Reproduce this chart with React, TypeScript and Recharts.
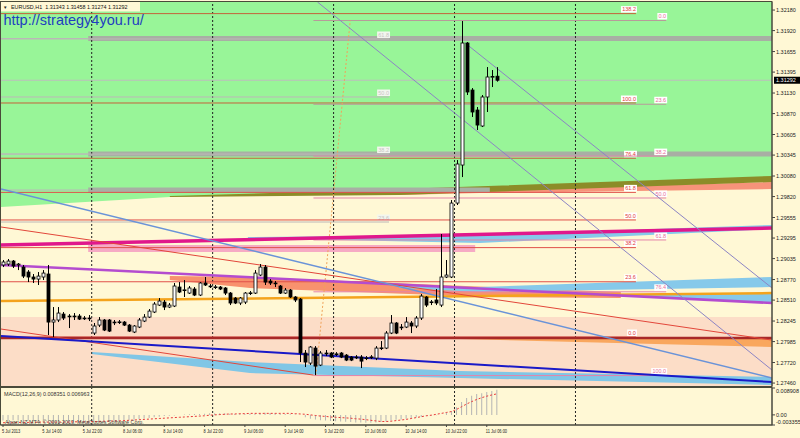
import React from 'react';
import { ComposedChart, Bar, Line, Area, XAxis, YAxis, ReferenceLine, ReferenceArea } from 'recharts';

const FONT = "'Liberation Sans', Arial, sans-serif";
const CREAM = '#FFF8D5';
const SLOTS = 153; // bar slots in the window, incl. the empty shift on the right

// EURUSD H1, 5 Jul 2013 06:00 .. 11 Jul 2013 08:00
const OPEN = [
  1.28954, 1.28966, 1.29004, 1.28954, 1.28928, 1.28865, 1.28802, 1.28776, 1.28802, 1.2884,
  1.28232, 1.28258, 1.28333, 1.28308, 1.28308, 1.28308, 1.28283, 1.28283, 1.28093, 1.28194,
  1.28258, 1.28258, 1.28232, 1.28232, 1.28232, 1.28194, 1.28106, 1.28169, 1.28245, 1.28295,
  1.28359, 1.28447, 1.28485, 1.28422, 1.28435, 1.28675, 1.28637, 1.28599, 1.2865, 1.28574,
  1.28726, 1.28688, 1.28675, 1.28675, 1.28663, 1.28599, 1.28536, 1.28473, 1.28485, 1.28599,
  1.28599, 1.28827, 1.28928, 1.28751, 1.28726, 1.28688, 1.28599, 1.28637, 1.28549, 1.28523,
  1.2784, 1.27713, 1.27903, 1.27688, 1.2784, 1.2784, 1.27827, 1.2784, 1.27814, 1.27789,
  1.27789, 1.27789, 1.27776, 1.27789, 1.27776, 1.27903, 1.27903, 1.28093, 1.2822, 1.28169,
  1.28169, 1.2822, 1.28182, 1.28283, 1.28549, 1.28485, 1.28511, 1.28447, 1.28802, 1.28802,
  1.29738, 1.30219, 1.31763, 1.31168, 1.30915, 1.30713, 1.3108, 1.31333, 1.31343,
];
const HIGH = [
  1.29017, 1.2903, 1.29017, 1.28979, 1.28954, 1.2889, 1.2884, 1.28865, 1.2889, 1.28954,
  1.28422, 1.28422, 1.28359, 1.28333, 1.28346, 1.28333, 1.28308, 1.28321, 1.2822, 1.28295,
  1.2827, 1.2827, 1.28258, 1.28258, 1.28245, 1.28207, 1.28194, 1.28283, 1.28333, 1.28397,
  1.28485, 1.28536, 1.28511, 1.28473, 1.28726, 1.28738, 1.28764, 1.28688, 1.28675, 1.28738,
  1.28802, 1.28713, 1.28701, 1.28688, 1.28675, 1.28612, 1.28549, 1.28549, 1.28612, 1.28625,
  1.2889, 1.28966, 1.28954, 1.28776, 1.28751, 1.28701, 1.28663, 1.2865, 1.28561, 1.28536,
  1.27878, 1.27928, 1.27928, 1.27865, 1.27878, 1.27852, 1.27852, 1.27852, 1.27827, 1.27802,
  1.27814, 1.27814, 1.27802, 1.27814, 1.27928, 1.27992, 1.28118, 1.28321, 1.28232, 1.28207,
  1.28295, 1.28245, 1.28308, 1.28587, 1.28561, 1.28511, 1.2865, 1.29346, 1.29017, 1.29776,
  1.30282, 1.32041, 1.31776, 1.31193, 1.30953, 1.31105, 1.31459, 1.31421, 1.31458,
];
const LOW = [
  1.28928, 1.28941, 1.28916, 1.2889, 1.28789, 1.28738, 1.28726, 1.28701, 1.28764, 1.28068,
  1.28042, 1.28232, 1.28258, 1.28156, 1.28258, 1.28258, 1.28258, 1.28245, 1.28068, 1.28169,
  1.28118, 1.28106, 1.28194, 1.28207, 1.28182, 1.28106, 1.28093, 1.28156, 1.28232, 1.28283,
  1.28346, 1.28435, 1.28384, 1.28409, 1.28422, 1.28599, 1.28549, 1.28587, 1.28561, 1.28561,
  1.28688, 1.28663, 1.2865, 1.28637, 1.28574, 1.28447, 1.2846, 1.28447, 1.2846, 1.28574,
  1.28587, 1.28814, 1.28701, 1.28701, 1.28675, 1.28587, 1.28587, 1.28536, 1.28485, 1.27726,
  1.27663, 1.27688, 1.27561, 1.27675, 1.27802, 1.27776, 1.27802, 1.27776, 1.27738, 1.27738,
  1.27764, 1.2765, 1.27751, 1.27764, 1.27751, 1.27878, 1.2789, 1.2808, 1.2808, 1.28131,
  1.28156, 1.28093, 1.28156, 1.28258, 1.28422, 1.28447, 1.28447, 1.28422, 1.28789, 1.28789,
  1.29713, 1.30067, 1.31105, 1.30827, 1.30662, 1.307, 1.3089, 1.31206, 1.31274,
];
const CLOSE = [
  1.28992, 1.29004, 1.28941, 1.28966, 1.28814, 1.28802, 1.28776, 1.28814, 1.28852, 1.28232,
  1.28258, 1.28346, 1.28283, 1.28305, 1.28305, 1.2827, 1.2828, 1.2828, 1.28182, 1.28258,
  1.28131, 1.28118, 1.28229, 1.28235, 1.28194, 1.28118, 1.28182, 1.28258, 1.28295, 1.28371,
  1.2846, 1.28498, 1.28422, 1.28447, 1.28688, 1.28612, 1.2864, 1.28663, 1.28574, 1.28726,
  1.28701, 1.28685, 1.28678, 1.2865, 1.28599, 1.28473, 1.28473, 1.28536, 1.28599, 1.28602,
  1.28852, 1.28928, 1.28738, 1.28726, 1.28723, 1.28599, 1.28637, 1.28549, 1.28511, 1.2784,
  1.27726, 1.27916, 1.27675, 1.2784, 1.27837, 1.27789, 1.2783, 1.27789, 1.27751, 1.27751,
  1.27786, 1.27738, 1.27779, 1.27792, 1.27903, 1.27906, 1.28093, 1.2822, 1.28093, 1.28166,
  1.28232, 1.28182, 1.28283, 1.28561, 1.28447, 1.28488, 1.28473, 1.28802, 1.28827, 1.29738,
  1.30232, 1.31763, 1.31143, 1.3089, 1.30725, 1.3108, 1.31333, 1.3134, 1.31292,
];

// MACD(12,26,9): main (histogram) and signal (dotted)
const MACD_MAIN = [
  -0.0019, -0.0018, -0.0018, -0.0017, -0.0018, -0.0019, -0.002, -0.002, -0.0019, -0.0025,
  -0.003, -0.003, -0.0029, -0.0028, -0.0027, -0.0026, -0.0025, -0.0024, -0.0024, -0.0023,
  -0.0022, -0.0022, -0.0021, -0.002, -0.0019, -0.0018, -0.0016, -0.0014, -0.0012, -0.001,
  -0.0008, -0.0006, -0.0004, -0.0003, -0.0002, 0.0, 0.0001, 0.0002, 0.0003, 0.0003,
  0.0004, 0.0005, 0.0005, 0.0005, 0.0005, 0.0004, 0.0003, 0.0003, 0.0003, 0.0004,
  0.0004, 0.0006, 0.0007, 0.0006, 0.0005, 0.0004, 0.0003, 0.0002, 0.0001, 0.0,
  -0.0008, -0.0013, -0.0015, -0.0018, -0.0019, -0.002, -0.0021, -0.0022, -0.0023, -0.0024,
  -0.0025, -0.0025, -0.0026, -0.0026, -0.0025, -0.0024, -0.0022, -0.0019, -0.0016, -0.0015,
  -0.0013, -0.0011, -0.0009, -0.0007, -0.0003, -0.0002, -0.0001, 0.0, 0.0008, 0.0012,
  0.0025, 0.0043, 0.0056, 0.0063, 0.0069, 0.0072, 0.0076, 0.0079, 0.008351,
];
const MACD_SIGNAL = [
  -0.0026, -0.0026, -0.0026, -0.0025, -0.0025, -0.0025, -0.0025, -0.0024, -0.0024, -0.0024,
  -0.0024, -0.0024, -0.0024, -0.0024, -0.0023, -0.0023, -0.0023, -0.0023, -0.0022, -0.0022,
  -0.0021, -0.0021, -0.002, -0.002, -0.0019, -0.0018, -0.0017, -0.0016, -0.0015, -0.0014,
  -0.0013, -0.0012, -0.0011, -0.001, -0.0009, -0.0008, -0.0007, -0.0006, -0.0005, -0.0004,
  -0.0003, -0.0001, 0.0, 0.0001, 0.0002, 0.0003, 0.0003, 0.0004, 0.0004, 0.0005,
  0.0005, 0.0005, 0.0005, 0.0005, 0.0005, 0.0005, 0.0005, 0.0005, 0.0004, 0.0003,
  0.0002, 0.0, -0.0002, -0.0004, -0.0005, -0.0007, -0.0008, -0.0009, -0.001, -0.0011,
  -0.0013, -0.0014, -0.0016, -0.0018, -0.002, -0.0022, -0.0022, -0.0021, -0.0019, -0.0017,
  -0.0015, -0.0012, -0.0009, -0.0006, -0.0003, -0.0001, 0.0002, 0.0005, 0.0008, 0.0011,
  0.0018, 0.0027, 0.0036, 0.0044, 0.0051, 0.0057, 0.0062, 0.0066, 0.006963,
];

const TIME_LABELS = [
  '5 Jul 2013', '5 Jul 14:00', '5 Jul 22:00', '8 Jul 06:00', '8 Jul 14:00', '8 Jul 22:00',
  '9 Jul 06:00', '9 Jul 14:00', '9 Jul 22:00', '10 Jul 06:00', '10 Jul 14:00', '10 Jul 22:00',
  '11 Jul 06:00',
];
const PRICE_TICKS = [
  1.3218, 1.3192, 1.31655, 1.31395, 1.3113, 1.3087, 1.30605, 1.30345, 1.3008, 1.2982,
  1.29555, 1.29295, 1.29035, 1.2877, 1.2851, 1.28245, 1.27985, 1.2772, 1.2746,
];
const MACD_TICKS = [0.008908, 0, -0.003355];
const PRICE_DOMAIN = [1.27423, 1.32282];
const MACD_DOMAIN = [-0.003355, 0.008908];
const DAY_BREAKS = [18, 42, 66, 90, 114];
const LAST_PRICE = 1.31292;

// Fibonacci objects: level text, price, [from bar, to bar]
const FIBO_A_LEVELS = ['138.2', '100.0', '76.4', '61.8', '50.0', '38.2', '23.6', '0.0'];
const FIBO_A_PRICES = [1.32135, 1.31004, 1.30305, 1.29873, 1.29524, 1.29174, 1.28742, 1.28043];
const FIBO_A_SPAN = [0, 126];
const FIBO_B_LEVELS = ['0.0', '23.6', '38.2', '50.0', '61.8', '76.4', '100.0'];
const FIBO_B_PRICES = [1.32048, 1.30988, 1.30332, 1.29802, 1.29271, 1.28615, 1.27555];
const FIBO_B_SPAN = [62, 132];
const FIBO_B_TREND = [[62.5, 1.27555], [69.3, 1.32048]];
const FIBO_C_LEVELS = ['61.8', '50.0', '38.2', '23.6'];
const FIBO_C_PRICES = [1.31814, 1.3108, 1.30358, 1.29498];
const FIBO_C_SPAN = [0, 77];

// grey horizontal bands: price and last bar
const GRAY_BAND_PRICES = [1.3182, 1.30358, 1.29903];
const GRAY_BAND_ENDS = [153, 153, 97];
const GRAY_BAND_START = 17.3;

// trend lines: [bar, price] end points
const MAGENTA_LINE = [[0, 1.29207], [153, 1.29422]];
const PURPLE_LINE = [[0, 1.28954], [153, 1.28473]];
const ORANGE_LINE = [[0, 1.28498], [153, 1.28599]];
const BROWN_LINE = [[0, 1.2803], [153, 1.2803]];
const RED_UPPER = [[0, 1.29435], [153, 1.28004]];
const RED_LOWER = [[0, 1.28144], [62, 1.27561]];
const STEEL_LINE = [[0, 1.29915], [153, 1.27524]];
const BLUE_LINE = [[0, 1.28055], [153, 1.27473]];
const SLATE_A = [[62.8, 1.32282], [153, 1.27625]];
const SLATE_B = [[92.1, 1.31763], [153, 1.28663]];

// filled zones: [bar, low, high]
const GREEN_ZONE = [[0, 1.29688, 1.32282], [33.5, 1.29814, 1.32282], [153, 1.30054, 1.32282]];
const OLIVE_BAND = [[33.5, 1.29814, 1.29827], [79, 1.29839, 1.29915], [153, 1.30004, 1.3008]];
const SALMON_BAND = [[79, 1.29839, 1.29877], [95, 1.29865, 1.29903], [153, 1.29915, 1.30004]];
const SKY_UPPER = [[49, 1.29295, 1.29308], [95, 1.29232, 1.29333], [153, 1.29409, 1.2946]];
const CORAL_BAND = [[33.5, 1.28764, 1.28814], [49.4, 1.28663, 1.28802], [97, 1.28549, 1.28675], [123, 1.28536, 1.28612]];
const SKY_MID_A = [[79, 1.28663, 1.28688], [95, 1.28612, 1.28675], [153, 1.28675, 1.28802]];
const SKY_MID_B = [[123, 1.28561, 1.28574], [153, 1.28473, 1.28587]];
const ORANGE_WEDGE = [[91, 1.28017, 1.2803], [153, 1.27916, 1.2803]];
const SKY_LOWER = [[18, 1.27827, 1.27852], [49.4, 1.27587, 1.27726], [91, 1.27524, 1.27612], [153, 1.27436, 1.27537]];
const PEACH_ZONE = [1.27423, 1.28295];
const PINK_ZONE = { bars: [17.3, 94.1], prices: [1.29118, 1.29207] };

const candles = OPEN.map((o, i) => ({ u: i + 0.4, o, h: HIGH[i], l: LOW[i], c: CLOSE[i] }));
const macdRows = MACD_MAIN.map((m, i) => ({ u: i + 0.4, macd: m, signal: MACD_SIGNAL[i] }));
const zone = (pts: number[][]) => pts.map(([u, lo, hi]) => ({ u, v: [lo, hi] }));
const seg = (pts: number[][]) => pts.map(([x, y]) => ({ x, y }));

function Candle(props: any) {
  const { x, y, width, height, payload } = props;
  if (!payload || height == null) return null;
  const { o, h, l, c } = payload;
  const top = Math.min(y, y + height);
  const span = Math.abs(height);
  const cx = Math.round(x + width / 2) + 0.5;
  const py = (p: number) => top + ((h - p) / (h - l)) * span;
  const bTop = py(Math.max(o, c));
  const bBot = py(Math.min(o, c));
  const bull = c >= o;
  return (
    <g>
      <line x1={cx} x2={cx} y1={top} y2={top + span} stroke="#000" strokeWidth={1} />
      <rect x={cx - 1.5} y={bTop} width={3} height={Math.max(bBot - bTop, 0.8)} fill={bull ? '#fff' : '#000'} stroke="#000" strokeWidth={0.8} />
    </g>
  );
}

function FiboTag({ viewBox, text, color, bg = '#fff' }: any) {
  if (!viewBox) return null;
  const end = viewBox.x + viewBox.width;
  const y = viewBox.y;
  const w = text.split('').reduce((s: number, ch: string) => s + (ch === '.' ? 1.6 : 3.1), 0);
  return (
    <g>
      <rect x={end - w - 1} y={y - 7.5} width={w + 2} height={6.5} fill={bg} />
      <text x={end} y={y - 2.3} textAnchor="end" fontSize={5.5} fill={color} fontFamily={FONT}>{text}</text>
    </g>
  );
}

function PriceTag({ viewBox }: any) {
  if (!viewBox) return null;
  const x = viewBox.x + viewBox.width + 2;
  const y = viewBox.y;
  return (
    <g>
      <rect x={x} y={y - 3.5} width={26} height={7} fill="#000" />
      <text x={x + 2} y={y + 2} fontSize={5.5} fill="#fff" fontFamily={FONT}>{LAST_PRICE.toFixed(5)}</text>
    </g>
  );
}

function PriceTick({ x, y, payload }: any) {
  return (
    <text x={x} y={y + 2} fontSize={5.5} fill="#222" fontFamily={FONT}>{Number(payload.value).toFixed(5)}</text>
  );
}

function MacdTick({ x, y, payload }: any) {
  const v = Number(payload.value);
  const dy = v > 0 ? 4.5 : v < 0 ? -1.5 : 2;
  const txt = v === 0 ? '0.00' : v.toFixed(6);
  return (
    <text x={x} y={y + dy} fontSize={5.5} fill="#222" fontFamily={FONT}>{txt}</text>
  );
}

function TimeTick({ x, y, payload }: any) {
  const k = Math.round((payload.value - 0.4) / 8);
  return (
    <text transform={`translate(${x - 1}, ${y + 5.5}) scale(0.66, 1)`} fontSize={6} fill="#222" fontFamily={FONT}>
      {TIME_LABELS[k]}
    </text>
  );
}

export default function App() {
  const bandProps = (fill: string, z: number) => ({
    type: 'linear' as const,
    dataKey: 'v',
    stroke: 'none',
    fill,
    fillOpacity: 1,
    isAnimationActive: false,
    dot: false,
    activeDot: false,
    zIndex: z,
  });
  return (
    <div style={{ position: 'absolute', left: 0, top: 0, width: 800, height: 438, background: CREAM, overflow: 'hidden' }}>
      <div style={{ position: 'absolute', left: 0, top: 0 }}>
        <ComposedChart width={800} height={388} data={candles} margin={{ top: 2, right: 0, bottom: 2, left: 1 }}>
          <XAxis dataKey="u" type="number" domain={[0, SLOTS]} allowDataOverflow hide />
          <YAxis
            orientation="right"
            type="number"
            width={28}
            domain={PRICE_DOMAIN}
            allowDataOverflow
            ticks={PRICE_TICKS}
            interval={0}
            tickSize={3}
            tickMargin={1}
            tick={<PriceTick />}
            axisLine={{ stroke: '#444' }}
            tickLine={{ stroke: '#444' }}
          />

          <Area data={zone(GREEN_ZONE)} {...bandProps('#98F598', 10)} />
          <ReferenceArea y1={PEACH_ZONE[0]} y2={PEACH_ZONE[1]} fill="#FCDDC7" fillOpacity={1} stroke="none" ifOverflow="hidden" zIndex={10} />
          <Area data={zone(SALMON_BAND)} {...bandProps('#F7937A', 110)} />
          <Area data={zone(OLIVE_BAND)} {...bandProps('#8C8C28', 120)} />
          <Area data={zone(SKY_UPPER)} {...bandProps('#86C9EA', 110)} />
          <ReferenceArea x1={PINK_ZONE.bars[0]} x2={PINK_ZONE.bars[1]} y1={PINK_ZONE.prices[0]} y2={PINK_ZONE.prices[1]} fill="#F6AAC4" fillOpacity={1} stroke="none" ifOverflow="hidden" zIndex={110} />
          <Area data={zone(CORAL_BAND)} {...bandProps('#F8926E', 110)} />
          <Area data={zone(SKY_MID_A)} {...bandProps('#86C9EA', 110)} />
          <Area data={zone(SKY_MID_B)} {...bandProps('#86C9EA', 110)} />
          <Area data={zone(ORANGE_WEDGE)} {...bandProps('#F9A75E', 110)} />
          <Area data={zone(SKY_LOWER)} {...bandProps('#80C6E6', 110)} />

          {GRAY_BAND_PRICES.map((p, k) => (
            <ReferenceLine key={`gb${k}`} segment={[{ x: GRAY_BAND_START, y: p }, { x: GRAY_BAND_ENDS[k], y: p }]} stroke="#A8AFA4" strokeWidth={5} ifOverflow="hidden" zIndex={150} />
          ))}
          {GRAY_BAND_PRICES.map((p, k) => (
            <ReferenceLine key={`gt${k}`} segment={[{ x: 0, y: p }, { x: GRAY_BAND_START, y: p }]} stroke="#B8B8B8" strokeWidth={1} ifOverflow="hidden" zIndex={150} />
          ))}

          {DAY_BREAKS.map((b) => (
            <ReferenceLine key={`d${b}`} x={b} stroke="#222" strokeDasharray="2 2" strokeWidth={1} ifOverflow="hidden" zIndex={300} />
          ))}

          <ReferenceLine y={LAST_PRICE} stroke="#BDBDBD" strokeWidth={1} ifOverflow="visible" zIndex={300} label={<PriceTag />} />

          {FIBO_C_PRICES.map((p, k) => (
            <ReferenceLine key={`fc${k}`} segment={[{ x: FIBO_C_SPAN[0], y: p }, { x: FIBO_C_SPAN[1], y: p }]} stroke="#BDB8B8" strokeWidth={1} ifOverflow="hidden" zIndex={400}
              label={<FiboTag text={FIBO_C_LEVELS[k]} color="#C8C4C4" bg="#F2F6EE" />} />
          ))}
          {FIBO_A_PRICES.map((p, k) => (
            <ReferenceLine key={`fa${k}`} segment={[{ x: FIBO_A_SPAN[0], y: p }, { x: FIBO_A_SPAN[1], y: p }]} stroke={k < 3 ? '#C4623A' : '#E0504A'} strokeWidth={1} ifOverflow="hidden" zIndex={400}
              label={<FiboTag text={FIBO_A_LEVELS[k]} color="#E23A3A" />} />
          ))}
          {FIBO_B_PRICES.map((p, k) => (
            <ReferenceLine key={`fb${k}`} segment={[{ x: FIBO_B_SPAN[0], y: p }, { x: FIBO_B_SPAN[1], y: p }]} stroke={k < 2 ? '#B89A9A' : '#E484AA'} strokeWidth={1} ifOverflow="hidden" zIndex={400}
              label={<FiboTag text={FIBO_B_LEVELS[k]} color="#E8709A" />} />
          ))}
          <ReferenceLine segment={seg(FIBO_B_TREND)} stroke="#F0A35A" strokeDasharray="2 2" strokeWidth={1} ifOverflow="hidden" zIndex={400} />

          <ReferenceLine segment={seg(BROWN_LINE)} stroke="#A82828" strokeWidth={2.5} ifOverflow="hidden" zIndex={410} />
          <ReferenceLine segment={seg(ORANGE_LINE)} stroke="#F4A31C" strokeWidth={2.5} ifOverflow="hidden" zIndex={410} />
          <ReferenceLine segment={seg(PURPLE_LINE)} stroke="#B44CCF" strokeWidth={2.5} ifOverflow="hidden" zIndex={410} />
          <ReferenceLine segment={seg(MAGENTA_LINE)} stroke="#E0188C" strokeWidth={3.5} ifOverflow="hidden" zIndex={410} />
          <ReferenceLine segment={seg(RED_UPPER)} stroke="#E2463A" strokeWidth={1} ifOverflow="hidden" zIndex={410} />
          <ReferenceLine segment={seg(RED_LOWER)} stroke="#E2463A" strokeWidth={1} ifOverflow="hidden" zIndex={410} />
          <ReferenceLine segment={seg(STEEL_LINE)} stroke="#6A93D8" strokeWidth={1.5} ifOverflow="hidden" zIndex={410} />
          <ReferenceLine segment={seg(BLUE_LINE)} stroke="#1A1AC8" strokeWidth={2} ifOverflow="hidden" zIndex={410} />
          <ReferenceLine segment={seg(SLATE_A)} stroke="#8C84C4" strokeWidth={1} ifOverflow="hidden" zIndex={410} />
          <ReferenceLine segment={seg(SLATE_B)} stroke="#8C84C4" strokeWidth={1} ifOverflow="hidden" zIndex={410} />

          <Bar dataKey={(d: any) => [d.l, d.h]} barSize={3} shape={(p: any) => <Candle {...p} />} isAnimationActive={false} zIndex={600} />
        </ComposedChart>
      </div>

      <div style={{ position: 'absolute', left: 0, top: 386 }}>
        <ComposedChart width={800} height={52} data={macdRows} margin={{ top: 2, right: 0, bottom: 0, left: 1 }}>
          <XAxis
            dataKey="u"
            type="number"
            domain={[0, SLOTS]}
            allowDataOverflow
            ticks={TIME_LABELS.map((_, k) => k * 8 + 0.4)}
            interval={0}
            height={13}
            tickSize={2}
            tickMargin={0}
            tick={<TimeTick />}
            axisLine={{ stroke: '#444' }}
            tickLine={{ stroke: '#444' }}
          />
          <YAxis
            orientation="right"
            type="number"
            width={28}
            domain={MACD_DOMAIN}
            allowDataOverflow
            ticks={MACD_TICKS}
            interval={0}
            tickSize={3}
            tickMargin={1}
            tick={<MacdTick />}
            axisLine={{ stroke: '#444' }}
            tickLine={{ stroke: '#444' }}
          />
          {DAY_BREAKS.map((b) => (
            <ReferenceLine key={`md${b}`} x={b} stroke="#222" strokeDasharray="2 2" strokeWidth={1} ifOverflow="hidden" />
          ))}
          <Bar dataKey="macd" barSize={1} fill="#B4B4B4" isAnimationActive={false} />
          <Line dataKey="signal" type="linear" stroke="#E8383A" strokeWidth={1} strokeDasharray="2 2" dot={false} activeDot={false} isAnimationActive={false} />
        </ComposedChart>
      </div>

      <svg width={800} height={438} style={{ position: 'absolute', left: 0, top: 0, pointerEvents: 'none' }}>
        <rect x={0.5} y={1.5} width={771.5} height={385} fill="none" stroke="#4A4A3A" strokeWidth={1} />
        <rect x={0.5} y={387.5} width={771.5} height={37.5} fill="none" stroke="#4A4A3A" strokeWidth={1} />
        <rect x={1} y={2} width={139} height={9.5} fill={CREAM} />
        <text x={3} y={8.6} fontSize={4.5} fill="#222" fontFamily={FONT}>▼</text>
        <text x={11} y={9} fontSize={5.4} fill="#111" fontFamily={FONT} xmlSpace="preserve">EURUSD,H1  1.31343 1.31458 1.31274 1.31292</text>
        <text x={3.5} y={25} fontSize={14.5} fill="#1E3EC0" fontFamily={FONT}>http://strategy4you.ru/</text>
        <text x={4} y={395.5} fontSize={5.4} fill="#333" fontFamily={FONT}>MACD(12,26,9) 0.008351 0.006963</text>
        <text x={5} y={423.5} fontSize={5.4} fill="#444" fontFamily={FONT}>Alpari NZ MT4, © 2001-2013, MetaQuotes Software Corp.</text>
      </svg>
    </div>
  );
}
